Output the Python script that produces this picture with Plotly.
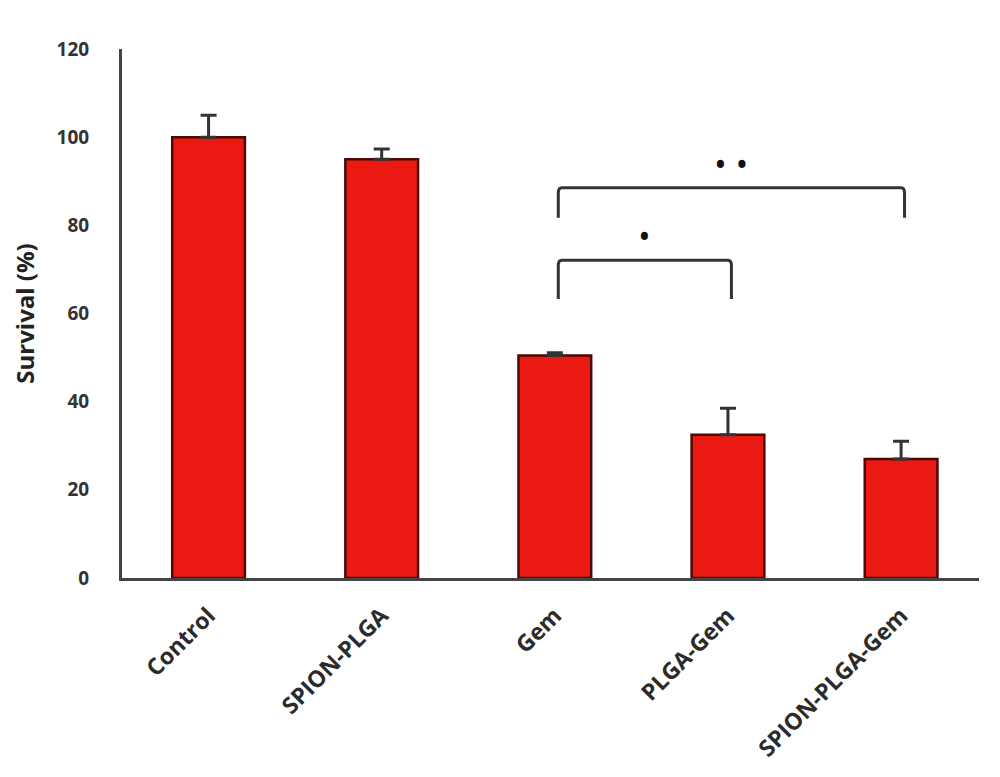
import plotly.graph_objects as go

categories = ["Control", "SPION-PLGA", "Gem", "PLGA-Gem", "SPION-PLGA-Gem"]
survival = [100, 95, 50.5, 32.5, 27]
errors = [5, 2.3, 0.6, 6, 4]
y_ticks = [0, 20, 40, 60, 80, 100, 120]

# significance comparisons: (left category, right category, label)
comparisons = [("Gem", "PLGA-Gem", "•"), ("Gem", "SPION-PLGA-Gem", "• •")]
bracket_top = [72.1, 88.5]
bracket_leg = [8.8, 6.8]

fig = go.Figure()
fig.add_trace(go.Bar(
    x=categories, y=survival,
    marker=dict(color="#ea1a12", line=dict(color="#4a0a05", width=2.5)),
    error_y=dict(type="data", array=errors, arrayminus=[0] * len(errors),
                 symmetric=False, color="#333333", thickness=3, width=8),
    width=0.42,
))

for (a, b, lab), top, leg in zip(comparisons, bracket_top, bracket_leg):
    xa = categories.index(a) + 0.02
    xb = categories.index(b) + 0.02
    r = 0.02
    path = (f"M {xa},{top - leg} L {xa},{top - 1.2} Q {xa},{top} {xa + r},{top} "
            f"L {xb - r},{top} Q {xb},{top} {xb},{top - 1.2} L {xb},{top - leg}")
    fig.add_shape(type="path", path=path, xref="x", yref="y",
                  line=dict(color="#333333", width=3))
    fig.add_annotation(x=(xa + xb) / 2, y=top + 5.4, xref="x", yref="y",
                       text=lab, showarrow=False,
                       font=dict(size=34, color="#111111", family="Open Sans"))

fig.update_layout(
    width=1000, height=777,
    margin=dict(l=114, r=29, t=41, b=207, autoexpand=False),
    plot_bgcolor="white", paper_bgcolor="white",
    showlegend=False,
    font=dict(family="Open Sans", color="#2b2b2b"),
)
fig.update_xaxes(
    range=[-0.5, 4.45], showline=True, linecolor="#444444", linewidth=3,
    ticks="", tickangle=-45, ticklabelstandoff=12, automargin=False,
    tickfont=dict(size=23, family="Open Sans", weight="bold", color="#2b2b2b"),
    showgrid=False,
)
fig.update_yaxes(
    range=[0, 120], tickvals=y_ticks, showline=True, linecolor="#444444",
    linewidth=3, ticks="", ticklabelstandoff=26, showgrid=False, zeroline=False,
    automargin=False,
    tickfont=dict(size=19, family="Open Sans", weight="bold", color="#333333"),
    title=dict(text="Survival (%)", standoff=24,
               font=dict(size=24, family="Open Sans", weight="bold", color="#222222")),
)

fig.write_html("out.html")
